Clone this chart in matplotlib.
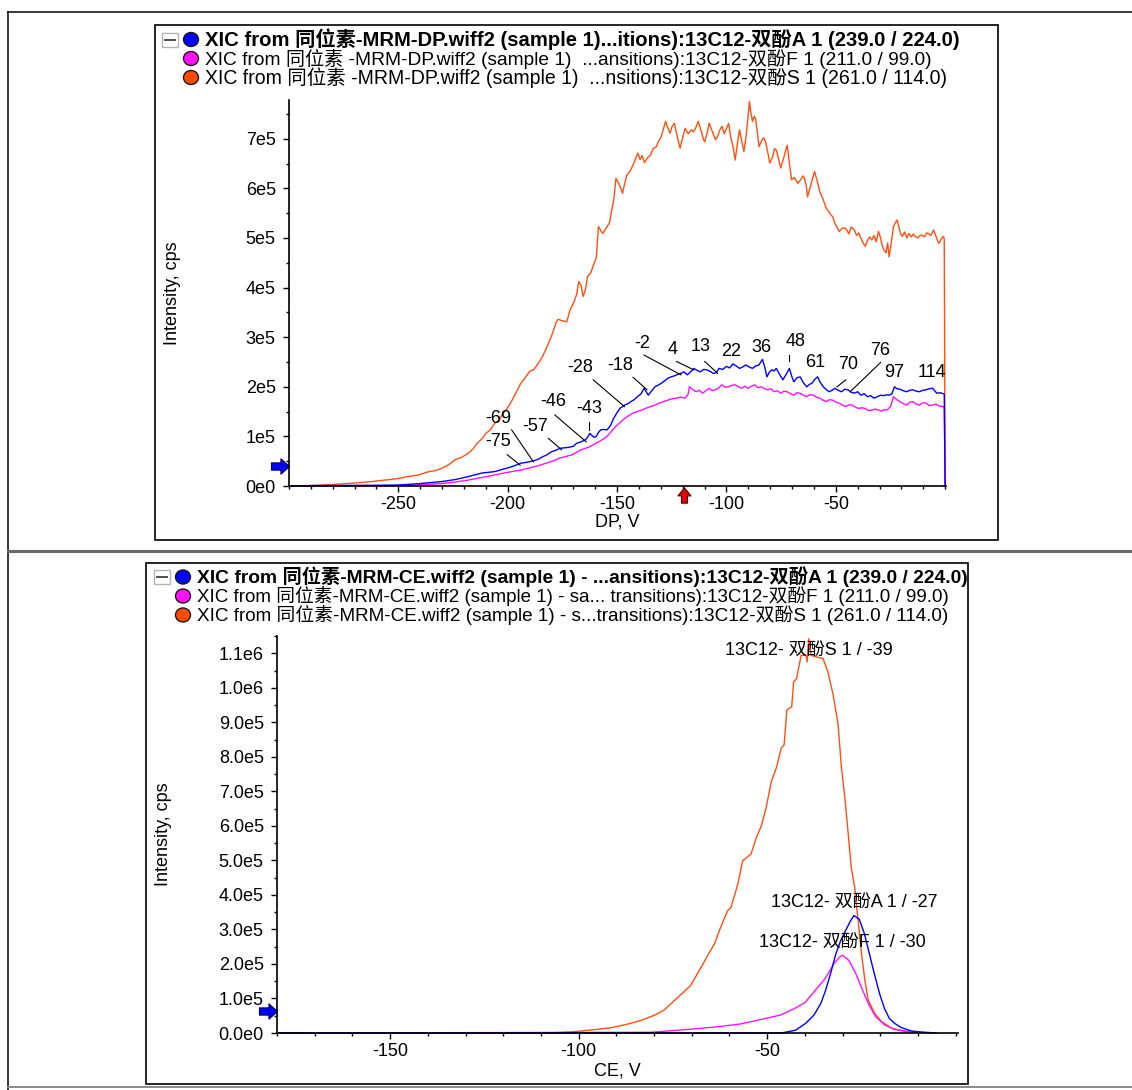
import matplotlib
matplotlib.use('Agg')
import matplotlib.pyplot as plt
import matplotlib.transforms as mtransforms
from matplotlib.patches import Rectangle, Ellipse
from matplotlib.path import Path
import numpy as np

plt.rcParams['font.family'] = ['Liberation Sans', 'Noto Sans CJK SC']
plt.rcParams['axes.unicode_minus'] = False

BLUE = '#0000FF'
MAGENTA = '#FF10FF'
ORANGE = '#FF5010'

# ---------------- DP ramp (intensity in units of 1e5 cps) ----------------
dp_orange_v = [-300, -290, -280, -270, -262, -256, -250, -246, -241, -236, -233, -230, -227, -224,
               -221, -218, -216, -214, -212, -210, -208, -206, -204, -202, -200, -198, -196, -194,
               -192, -190, -188, -186, -184, -182, -180, -178, -177, -175, -173, -171.5, -170,
               -168.5, -167.5, -166.5, -165.5, -164.5, -163.5, -162, -160.5, -159.5, -158.5,
               -157.5, -156.5, -155, -153.5, -152.5, -151.5, -150.5, -149.5, -148.5, -147.5,
               -146.5, -145.5, -144, -142.7, -141.5, -140.5, -139.5, -138.5, -137.5, -136,
               -134.7, -133.5, -132, -131, -129.8, -128.8, -127.8, -126.8, -125.8, -124.8,
               -123.8, -122.5, -121.2, -120, -118.9, -117.5, -116, -115, -114, -112.9, -111.5,
               -110.5, -109.9, -108.8, -107.9, -106.5, -105, -104, -103, -102, -101, -100, -99,
               -98, -97, -96, -95, -94, -93, -92, -91, -90.2, -89.5, -88.8, -88.1, -87.3, -86.7,
               -85.8, -85.1, -84, -83, -82.1, -81, -80.2, -79, -78, -77.2, -76.2, -75.2, -74,
               -73, -72.2, -71.2, -70.2, -69, -68, -67.3, -66, -65, -64.3, -63.5, -62.9, -61.5,
               -60.5, -59.7, -58.5, -57.3, -56, -55, -54.4, -53, -52, -51.4, -50.5, -49.5, -48.4,
               -47, -45.4, -44, -43, -41.5, -40.5, -39.5, -38.5, -37.5, -36.5, -35.5, -34.5,
               -33.5, -32.5, -31.5, -30.5, -29.5, -28.8, -28, -27, -26.3, -25.6, -24.8, -23.6,
               -22.8, -22, -21, -20.3, -19.6, -18.5, -17.5, -16.6, -15.5, -14.5, -13.7, -12.5,
               -11.5, -10.7, -9.5, -8.5, -7.7, -6.5, -5.3, -4.3, -3.5, -2.8, -1.8, -0.8, -0.4, 0]
dp_orange = [0.00, 0.01, 0.03, 0.06, 0.09, 0.12, 0.15, 0.19, 0.22, 0.29, 0.31, 0.36, 0.43, 0.53,
             0.58, 0.66, 0.74, 0.86, 0.94, 1.06, 1.13, 1.26, 1.33, 1.47, 1.58, 1.73, 1.90, 2.07,
             2.18, 2.31, 2.35, 2.47, 2.62, 2.81, 3.02, 3.28, 3.36, 3.33, 3.31, 3.55, 3.68,
             3.86, 4.12, 4.05, 3.82, 3.95, 4.22, 4.30, 4.49, 4.60, 5.23,
             5.15, 5.09, 5.20, 5.30, 5.55, 5.77, 6.20, 6.12, 6.02, 5.90,
             6.10, 6.27, 6.35, 6.47, 6.60, 6.71, 6.58, 6.66, 6.52, 6.62,
             6.67, 6.80, 6.84, 6.95, 7.04, 7.20, 7.35, 7.22, 7.11, 7.25,
             7.31, 7.05, 6.81, 7.02, 7.21, 7.10, 7.18, 7.14, 7.22, 7.35, 7.15,
             6.98, 6.94, 7.12, 7.31, 7.15, 6.98, 7.05, 7.18, 7.25, 7.10, 7.20, 7.31,
             7.02, 6.85, 6.57, 6.90, 7.18, 6.95, 6.74, 7.05, 7.40, 7.75, 7.52, 7.35, 7.45, 7.41,
             7.10, 6.84, 6.95, 7.02, 6.94, 6.70, 6.51, 6.62, 6.80, 6.77, 6.60, 6.41, 6.58,
             6.75, 6.87, 6.50, 6.17, 6.22, 6.15, 6.10, 6.18, 6.25, 6.20, 6.05, 5.83, 6.05,
             6.22, 6.34, 6.15, 5.93, 5.80, 5.68, 5.60, 5.52, 5.45, 5.43, 5.30, 5.22, 5.13,
             5.20, 5.19, 5.08, 5.22, 5.16, 5.05, 5.10, 4.99, 4.90, 4.83, 4.95, 5.02,
             4.96, 5.05, 4.92, 5.13, 5.00, 4.85, 4.76, 4.70, 4.90, 4.62, 4.85, 5.23,
             5.30, 5.36, 5.20, 5.08, 5.03, 5.12, 5.00, 5.09, 5.02, 5.08, 5.03, 5.00,
             5.05, 5.06, 5.02, 5.10, 5.09, 5.05, 5.16, 5.05, 4.95, 4.89, 4.98, 5.03, 4.98, 0]

dp_blue_v = [-300, -280, -260, -250, -240, -230, -224, -218, -212, -206, -202, -198, -194, -191,
             -188, -186, -184, -182, -180, -178, -176, -174, -172, -170, -168.5, -166.5, -164.5,
             -163.5, -162.5, -161.5, -160.5, -159.5, -158.5, -157.5, -156, -154.6, -153, -151.6,
             -150, -148.6, -147.5, -146.6, -145, -143.7, -142.2, -140.7, -139, -137.7, -136.7,
             -135.7, -134.5, -132.7, -131.3, -129.8, -128.3, -126.8, -125.3, -123.8, -122.3,
             -120.8, -119.4, -117.9, -116.4, -114.9, -113.4, -111.9, -110.4, -108.9, -107.5,
             -106, -104.7, -103.4, -101.7, -100, -98.5, -97, -95.5, -94, -92.5, -91.1, -89.6,
             -88.1, -86.6, -85.1, -84.3, -83.5, -82.5, -81.5, -80.3, -79.2, -78.2, -77.2, -75.7,
             -74.2, -72.7, -71.2, -70.2, -69.2, -67.8, -66.3, -64.8, -63.3, -62, -60.9, -59.6,
             -58.3, -57, -55.7, -54.3, -53, -51.7, -50.4, -48.9, -47.4, -45.9, -44.4, -43,
             -41.5, -40, -38.5, -37, -35.5, -34, -32.5, -31, -29.5, -28, -26.8, -25.6, -24.3,
             -23.2, -22, -20.6, -19.1, -17.6, -16.1, -14.7, -13.2, -11.7, -10.2, -8.7, -7.2,
             -5.7, -4.8, -3.8, -2.3, -0.8, -0.4, 0]
dp_blue = [0.005, 0.01, 0.015, 0.02, 0.05, 0.09, 0.13, 0.19, 0.26, 0.29, 0.34, 0.39, 0.46, 0.48,
           0.51, 0.54, 0.59, 0.63, 0.69, 0.72, 0.76, 0.77, 0.78, 0.80, 0.86, 0.89, 0.93,
           0.98, 1.06, 1.02, 0.98, 1.00, 1.08, 1.13, 1.14, 1.13, 1.22, 1.36,
           1.48, 1.57, 1.60, 1.63, 1.66, 1.70, 1.74, 1.80, 1.86, 1.97, 1.90,
           1.83, 1.90, 2.00, 2.03, 2.07, 2.12, 2.17, 2.20, 2.22, 2.25,
           2.27, 2.30, 2.24, 2.30, 2.37, 2.33, 2.30, 2.35, 2.34, 2.31,
           2.27, 2.28, 2.37, 2.35, 2.41, 2.38, 2.46, 2.42, 2.37, 2.40, 2.44, 2.40,
           2.37, 2.42, 2.44, 2.50, 2.55, 2.40, 2.20, 2.30, 2.34, 2.32, 2.37, 2.25,
           2.14, 2.25, 2.37, 2.22, 2.10, 2.18, 2.20, 2.08, 2.00, 2.05, 2.07, 2.15,
           2.20, 2.08, 2.00, 1.94, 1.90, 1.93, 1.97, 1.93, 1.90, 1.95, 1.94, 1.89,
           1.87, 1.90, 1.83, 1.86, 1.80, 1.82, 1.77, 1.80, 1.83, 1.82, 1.84, 1.83, 1.86,
           2.00, 1.96, 1.95, 1.92, 1.90, 1.93, 1.94, 1.91, 1.90, 1.93, 1.94, 1.96,
           1.97, 1.92, 1.87, 1.88, 1.86, 1.85, 0]

dp_magenta_v = [-300, -260, -246, -238, -230, -224, -218, -212, -206.2, -202, -198.2, -194,
                -190.3, -186, -182.4, -179, -176.4, -173, -170.5, -168.5, -166.5, -164.5, -162.5,
                -160.5, -158.5, -156.5, -154.6, -152.6, -150.6, -148.6, -146.6, -144.6, -142.7,
                -140.7, -138.7, -136.7, -134.7, -132.7, -130.8, -128.8, -126.8, -124.8, -122.8,
                -120.8, -118.9, -117.6, -116.9, -115.5, -113.9, -112.4, -110.9, -109.4, -107.9,
                -106.5, -105, -103.5, -102, -100.5, -99, -97.5, -96, -94.5, -93, -91.5, -90.1,
                -88.6, -87.1, -85.6, -84.1, -82.6, -81.2, -79.7, -78.2, -76.7, -75.2, -73.7,
                -72.2, -70.7, -69.2, -67.8, -66.3, -64.8, -63.3, -61.8, -60.3, -58.8, -57.3,
                -55.9, -54.4, -52.9, -51.4, -49.9, -48.4, -46.9, -45.4, -44, -42.5, -41, -39.5,
                -38, -36.5, -35, -33.5, -32, -30.5, -29, -27.8, -26.6, -25, -23.6, -22.1, -20.6,
                -19.1, -17.6, -16.2, -14.7, -13.2, -11.7, -10.2, -8.7, -7.2, -5.7, -4.2, -2.5,
                -0.8, -0.4, 0]
dp_magenta = [0.0, 0.005, 0.01, 0.03, 0.05, 0.08, 0.12, 0.17, 0.22, 0.26, 0.29, 0.32,
              0.36, 0.41, 0.46, 0.51, 0.56, 0.60, 0.63, 0.68, 0.73, 0.76, 0.79,
              0.84, 0.89, 0.94, 1.00, 1.10, 1.20, 1.28, 1.36, 1.42, 1.47,
              1.50, 1.53, 1.57, 1.60, 1.63, 1.67, 1.70, 1.73, 1.76, 1.77,
              1.79, 1.77, 1.84, 2.00, 1.95, 1.90, 1.93, 1.87, 1.92, 1.97,
              1.92, 1.94, 1.98, 2.04, 1.99, 2.00, 2.03, 2.04, 2.00, 1.97, 2.01, 1.97,
              2.01, 2.04, 1.98, 2.00, 1.96, 1.94, 1.96, 1.90, 1.92, 1.87, 1.91,
              1.90, 1.86, 1.83, 1.88, 1.87, 1.83, 1.80, 1.84, 1.83, 1.79, 1.77,
              1.73, 1.70, 1.74, 1.73, 1.69, 1.67, 1.63, 1.60, 1.64, 1.63, 1.59, 1.56,
              1.58, 1.56, 1.52, 1.53, 1.55, 1.53, 1.51, 1.54, 1.53, 1.60, 1.80, 1.74, 1.70,
              1.66, 1.63, 1.69, 1.70, 1.65, 1.63, 1.68, 1.67, 1.62, 1.63, 1.65, 1.61,
              1.60, 1.60, 0]

# peak labels on the blue trace and their leader lines
dp_labels = ['-75', '-69', '-57', '-46', '-43', '-28', '-18', '-2', '4', '13', '22', '36',
             '48', '61', '70', '76', '97', '114']
dp_label_v = [-204.2, -204.2, -187.3, -179.4, -162.9, -166.9, -148.6, -138.7, -124.4, -111.9,
              -98.0, -84.1, -68.2, -59.3, -44.4, -29.5, -23.2, -6.1]
dp_label_i = [0.89, 1.36, 1.19, 1.70, 1.57, 2.39, 2.42, 2.88, 2.76, 2.82, 2.71, 2.80, 2.92,
              2.48, 2.44, 2.74, 2.28, 2.28]
leader_from_v = [-200.2, -198.2, -181.4, -178.4, -162.9, -160.9, -142.7, -137.7, -122.8, -109.9,
                 -71.2, -45.4, -29.5]
leader_from_i = [0.63, 1.13, 0.96, 1.43, 1.30, 2.14, 2.19, 2.64, 2.51, 2.51, 2.64, 2.14, 2.49]
leader_to_v = [-194.3, -188.3, -175.4, -164.1, -162.9, -146.6, -136.3, -120.8, -114.9, -104.0,
               -71.2, -49.4, -43.4]
leader_to_i = [0.42, 0.49, 0.73, 0.89, 1.13, 1.60, 1.94, 2.24, 2.34, 2.27, 2.51, 2.00, 1.90]

dp_yticks = [0, 1, 2, 3, 4, 5, 6, 7]
dp_ytick_labels = ['0e0', '1e5', '2e5', '3e5', '4e5', '5e5', '6e5', '7e5']
dp_xticks = [-250, -200, -150, -100, -50]

# ---------------- CE ramp (intensity in units of 1e5 cps) ----------------
ce_orange_v = [-180, -106, -101, -96.4, -91.6, -86.9, -83.3, -79.8, -77.4, -75, -72.6, -70.3,
               -68.5, -67.3, -65.5, -64.0, -62.5, -60.5, -59.6, -57.8, -56.5, -54.3, -52.9,
               -51.6, -50.3, -48.9, -47.6, -46.3, -45.5, -44.8, -43.5, -43.0, -42.2, -41.0,
               -39.7, -39.4, -39.0, -38.4, -37.2, -35.2, -33.9, -32.5, -31.2, -30.3, -29.4,
               -28.5, -27.7, -26.8, -25.9, -25.0, -24.1, -23.2, -21.5, -19.7, -17.0, -13.5,
               -9.9, -9.7]
ce_orange = [0, 0.01, 0.04, 0.09, 0.15, 0.26, 0.37, 0.52, 0.66, 0.90, 1.14, 1.38,
             1.72, 1.95, 2.30, 2.58, 3.02, 3.54, 3.64, 4.31, 4.99, 5.18, 5.66,
             5.99, 6.52, 7.29, 7.67, 8.25, 8.35, 9.36, 9.45, 10.17, 10.27, 10.94,
             10.94, 10.75, 11.42, 10.94, 10.90, 10.85, 10.46, 9.79, 8.93, 7.67, 6.81,
             5.75, 4.79, 4.22, 3.26, 2.30, 1.53, 0.95, 0.57, 0.33, 0.14, 0.04,
             0.01, 0]

ce_blue_v = [-180, -46, -45.8, -42.5, -39.8, -37.6, -35.8, -34.5, -33.2, -31.8, -30.5, -29.2,
             -27.9, -27.0, -25.6, -24.2, -22.9, -21.6, -20.2, -18.9, -17.6, -16.2, -14.5, -11.8,
             -9.2, -5.2]
ce_blue = [0, 0, 0.01, 0.08, 0.28, 0.52, 0.85, 1.24, 1.72, 2.29, 2.68, 2.97,
           3.25, 3.40, 3.30, 2.87, 2.29, 1.72, 1.14, 0.71, 0.42, 0.28, 0.16, 0.06,
           0.03, 0]

ce_magenta_v = [-180, -81, -71.4, -63.1, -57.2, -51.3, -46.5, -42.9, -40.0, -37.6, -34.6, -32.3,
                -30.8, -30.0, -28.3, -26.5, -24.7, -23.0, -21.2, -18.8, -16.4, -12.9, -10.5,
                -9.5]
ce_magenta = [0, 0.02, 0.10, 0.18, 0.26, 0.40, 0.52, 0.70, 0.88, 1.19, 1.58, 2.01,
              2.20, 2.25, 2.10, 1.72, 1.24, 0.81, 0.47, 0.23, 0.11, 0.05, 0.02,
              0]

ce_yticks = [0, 1, 2, 3, 4, 5, 6, 7, 8, 9, 10, 11]
ce_ytick_labels = ['0.0e0', '1.0e5', '2.0e5', '3.0e5', '4.0e5', '5.0e5', '6.0e5', '7.0e5',
                   '8.0e5', '9.0e5', '1.0e6', '1.1e6']
ce_xticks = [-150, -100, -50]

dp_legend = ['XIC from 同位素-MRM-DP.wiff2 (sample 1)...itions):13C12-双酚A 1 (239.0 / 224.0)',
             'XIC from 同位素 -MRM-DP.wiff2 (sample 1)  ...ansitions):13C12-双酚F 1 (211.0 / 99.0)',
             'XIC from 同位素 -MRM-DP.wiff2 (sample 1)  ...nsitions):13C12-双酚S 1 (261.0 / 114.0)']
ce_legend = ['XIC from 同位素-MRM-CE.wiff2 (sample 1) - ...ansitions):13C12-双酚A 1 (239.0 / 224.0)',
             'XIC from 同位素-MRM-CE.wiff2 (sample 1) - sa... transitions):13C12-双酚F 1 (211.0 / 99.0)',
             'XIC from 同位素-MRM-CE.wiff2 (sample 1) - s...transitions):13C12-双酚S 1 (261.0 / 114.0)']
ce_compounds = ['A', 'F', 'S']

W, H = 1132, 1090
fig = plt.figure(figsize=(W / 100, H / 100), dpi=100)
renderer = fig.canvas.get_renderer()

# page layer in pixel units: table rules, panel boxes, legends
page = fig.add_axes([0, 0, 1, 1])
page.set_xlim(0, W)
page.set_ylim(H, 0)
page.axis('off')

page.plot([7.5, 7.5], [11.5, H], color='black', lw=1.1)
page.plot([7.5, W], [11.5, 11.5], color='black', lw=1.1)
page.plot([7.5, W], [551, 551], color='#6a6a6a', lw=2.2)
page.plot([7.5, W], [1086.5, 1086.5], color='#8a8a8a', lw=1.4)
page.add_patch(Rectangle((155, 25), 843, 515, fill=False, ec='black', lw=1.2))
page.add_patch(Rectangle((146, 563), 822, 521, fill=False, ec='black', lw=1.2))


def fit_to_width(t, width_px):
    w = t.get_window_extent(renderer=renderer).width
    t.set_fontsize(t.get_fontsize() * width_px / w)


def draw_legend(cx, y0, labels, widths):
    page.add_patch(Rectangle((cx - 29, y0 - 7), 16, 14, fc='white', ec='#b4b4b4', lw=1))
    page.plot([cx - 26, cx - 16], [y0, y0], color='#404040', lw=1.3)
    for i, (s, w, c) in enumerate(zip(labels, widths, [BLUE, MAGENTA, '#FF4A00'])):
        y = y0 + 19 * i
        page.add_patch(Ellipse((cx, y), 15, 14, fc=c, ec='#1a1a1a', lw=1.0))
        t = page.text(cx + 14, y, s, va='center', ha='left', fontsize=12,
                      fontweight='bold' if i == 0 else 'normal')
        fit_to_width(t, w)


draw_legend(191, 39.5, dp_legend, [753, 725, 742])
draw_legend(183, 577, ce_legend, [766, 752, 750])

right_arrow = Path([(-1, 0.4), (0.05, 0.4), (0.05, 0.85), (1, 0), (0.05, -0.85),
                    (0.05, -0.4), (-1, -0.4), (-1, 0.4)], closed=True)
up_arrow = Path([(-0.4, -1), (0.4, -1), (0.4, -0.05), (0.85, -0.05), (0, 1), (-0.85, -0.05),
                 (-0.4, -0.05), (-0.4, -1)], closed=True)


def style_axes(ax, xticks, xminor, yticks, ylabels):
    for side in ('top', 'right'):
        ax.spines[side].set_visible(False)
    for side in ('left', 'bottom'):
        ax.spines[side].set_linewidth(1.2)
    ax.set_xticks(xticks)
    ax.set_xticklabels([str(v) for v in xticks])
    ax.set_xticks(xminor, minor=True)
    ax.set_yticks(np.array(yticks) * 1e5)
    ax.set_yticklabels(ylabels)
    ax.set_yticks((np.array(yticks) + 0.5) * 1e5, minor=True)
    ax.tick_params(which='major', direction='out', length=4, width=1, labelsize=13)
    ax.tick_params(which='minor', direction='out', length=2, width=1)
    ax.tick_params(axis='y', which='major', pad=5.5)
    ax.tick_params(axis='x', which='major', pad=3)
    ax.set_facecolor('none')


# ---------------- DP panel ----------------
ax1 = fig.add_axes([289 / W, 1 - 486 / H, (946 - 289) / W, (486 - 100) / H])
ax1.plot(dp_orange_v, np.array(dp_orange) * 1e5, color=ORANGE, lw=1.0, clip_on=False)
ax1.plot(dp_magenta_v, np.array(dp_magenta) * 1e5, color=MAGENTA, lw=1.0, clip_on=False)
ax1.plot(dp_blue_v, np.array(dp_blue) * 1e5, color=BLUE, lw=1.0, clip_on=False)
ax1.set_xlim(-300, 0.4)
ax1.set_ylim(0, 7.78e5)
style_axes(ax1, dp_xticks, [v for v in range(-300, 1, 10) if v not in dp_xticks],
           dp_yticks, dp_ytick_labels)

for lab, v, i in zip(dp_labels, dp_label_v, dp_label_i):
    ax1.text(v, i * 1e5, lab, ha='center', va='center', fontsize=13)
for v0, i0, v1, i1 in zip(leader_from_v, leader_from_i, leader_to_v, leader_to_i):
    ax1.plot([v0, v1], [i0 * 1e5, i1 * 1e5], color='black', lw=0.8)

ax1.set_ylabel('Intensity, cps', fontsize=13, va='center')
ax1.yaxis.set_label_coords(-0.178, 0.5)
ax1.set_xlabel('DP, V', fontsize=13, va='center')
ax1.xaxis.set_label_coords(0.5, -0.093)

t1 = mtransforms.blended_transform_factory(ax1.transAxes, ax1.transData)
ax1.plot([-0.0137], [0.40e5], marker=right_arrow, ms=13, mfc=BLUE, mec='#000050', mew=0.8,
         ls='none', transform=t1, clip_on=False)
t1b = mtransforms.blended_transform_factory(ax1.transData, ax1.transAxes)
ax1.plot([-119.6], [-0.023], marker=up_arrow, ms=11, mfc='#E80000', mec='#400000', mew=0.8,
         ls='none', transform=t1b, clip_on=False)

# ---------------- CE panel ----------------
ax2 = fig.add_axes([277 / W, 1 - 1033 / H, (958 - 277) / W, (1033 - 636) / H])
ce_series = [(ce_orange_v, ce_orange, ORANGE), (ce_magenta_v, ce_magenta, MAGENTA),
             (ce_blue_v, ce_blue, BLUE)]
for xs, ys, c in ce_series:
    ax2.plot(xs, np.array(ys) * 1e5, color=c, lw=1.0, clip_on=False)
ax2.set_xlim(-180, 0.6)
ax2.set_ylim(0, 11.44e5)
ce_minor = [v for v in range(-180, 1, 10) if v not in ce_xticks]
style_axes(ax2, ce_xticks, ce_minor, ce_yticks, ce_ytick_labels)

# apex labels: compound / CE at maximum
for name, (xs, ys) in zip(ce_compounds, [(ce_blue_v, ce_blue), (ce_magenta_v, ce_magenta),
                                         (ce_orange_v, ce_orange)]):
    k = int(np.argmax(ys))
    ty = min(ys[k] + 0.37, 11.09) * 1e5
    ax2.text(xs[k], ty, f'13C12- 双酚{name} 1 / {int(round(xs[k]))}', ha='center', va='center',
             fontsize=13)

ax2.set_ylabel('Intensity, cps', fontsize=13, va='center')
ax2.yaxis.set_label_coords(-0.167, 0.5)
ax2.set_xlabel('CE, V', fontsize=13, va='center')
ax2.xaxis.set_label_coords(0.5, -0.096)

t2 = mtransforms.blended_transform_factory(ax2.transAxes, ax2.transData)
ax2.plot([-0.013], [0.65e5], marker=right_arrow, ms=13, mfc=BLUE, mec='#000050', mew=0.8,
         ls='none', transform=t2, clip_on=False)

fig.savefig('out.png', dpi=100)
